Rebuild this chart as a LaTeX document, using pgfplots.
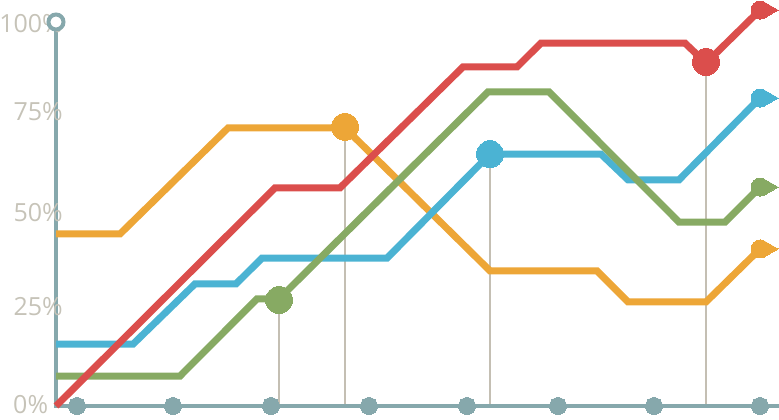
\documentclass[border=0pt]{standalone}
\usepackage{pgfplots}
\pgfplotsset{compat=1.18}
\usepackage{fontspec}
\setmainfont{Open Sans}
\definecolor{cred}{HTML}{DB4E4C}
\definecolor{corange}{HTML}{EDA637}
\definecolor{cblue}{HTML}{4BB3D3}
\definecolor{cgreen}{HTML}{87AA63}
\definecolor{caxis}{HTML}{86A8AC}
\definecolor{cdrop}{HTML}{C4BFB3}
\definecolor{ctext}{HTML}{C6C3B8}
\begin{document}
\begin{tikzpicture}
\begin{axis}[width=779pt,height=419pt,scale only axis,
  xmin=0,xmax=779,ymin=-3.385,ymax=105.73,hide axis,clip=false]
\coordinate (ll) at (rel axis cs:0,0);
\coordinate (ur) at (rel axis cs:1,1);
% drop lines
\addplot[cdrop, line width=2pt] coordinates {(279,0)(279,27.6)};
\addplot[cdrop, line width=2pt] coordinates {(345,0)(345,72.7)};
\addplot[cdrop, line width=2pt] coordinates {(490,0)(490,65.6)};
\addplot[cdrop, line width=2pt] coordinates {(706,0)(706,89.6)};
% axes
\addplot[caxis, line width=4pt] coordinates {(56,0)(56,100)};
\addplot[caxis, line width=4pt] coordinates {(54,0)(779,0)};
\addplot[only marks, color=caxis, mark=*, mark size=8.5pt, mark options={line width=0pt}]
  coordinates {(77,0)(173,0)(271,0)(369,0)(467,0)(558,0)(654,0)(760,0)};
\addplot[only marks, color=caxis, mark=*, mark size=7.5pt, mark options={fill=white,line width=4pt}]
  coordinates {(56,100)};
% orange
\addplot[corange, line width=7pt, line join=miter] coordinates
  {(56,44.8)(120,44.8)(228,72.4)(345,72.4)(490,35.2)(597,35.2)(628,27.1)(706,27.1)(760,40.9)};
\addplot[only marks, color=corange, mark=*, mark size=13.5pt, mark options={line width=0pt}] coordinates {(345,72.7)};
\addplot[only marks, color=corange, mark=*, mark size=9pt, mark options={line width=0pt}] coordinates {(760,40.9)};
\addplot[only marks, color=corange, mark=triangle*, mark size=10pt, mark options={line width=0pt,rotate=-90}] coordinates {(768,40.9)};
% blue
\addplot[cblue, line width=7pt, line join=miter] coordinates
  {(56,16.1)(133,16.1)(195,31.8)(236,31.8)(262,38.5)(387,38.5)(490,65.6)(601,65.6)(628,58.9)(679,58.9)(760,80.2)};
\addplot[only marks, color=cblue, mark=*, mark size=13.5pt, mark options={line width=0pt}] coordinates {(490,65.6)};
\addplot[only marks, color=cblue, mark=*, mark size=9pt, mark options={line width=0pt}] coordinates {(760,80.2)};
\addplot[only marks, color=cblue, mark=triangle*, mark size=10pt, mark options={line width=0pt,rotate=-90}] coordinates {(768,80.2)};
% green
\addplot[cgreen, line width=7pt, line join=miter] coordinates
  {(56,7.8)(180,7.8)(257,27.9)(279,27.9)(488,81.8)(549,81.8)(679,47.9)(725,47.9)(760,57.0)};
\addplot[only marks, color=cgreen, mark=*, mark size=13.5pt, mark options={line width=0pt}] coordinates {(279,27.6)};
\addplot[only marks, color=cgreen, mark=*, mark size=9pt, mark options={line width=0pt}] coordinates {(760,57.0)};
\addplot[only marks, color=cgreen, mark=triangle*, mark size=10pt, mark options={line width=0pt,rotate=-90}] coordinates {(768,57.0)};
% red
\addplot[cred, line width=7pt, line join=miter] coordinates
  {(56,0)(275,56.8)(340,56.8)(463,88.3)(517,88.3)(541,94.5)(685,94.5)(706,89.3)(760,103.1)};
\addplot[only marks, color=cred, mark=*, mark size=13.5pt, mark options={line width=0pt}] coordinates {(706,89.6)};
\addplot[only marks, color=cred, mark=*, mark size=9pt, mark options={line width=0pt}] coordinates {(760,103.1)};
\addplot[only marks, color=cred, mark=triangle*, mark size=10pt, mark options={line width=0pt,rotate=-90}] coordinates {(768,103.1)};
% labels
\begin{scope}[every node/.style={text=ctext, font=\fontsize{25}{25}\selectfont, inner sep=0pt}]
\node[anchor=east] at (axis cs:63,99.7) {100\%};
\node[anchor=east] at (axis cs:63,76.8) {75\%};
\node[anchor=east] at (axis cs:63,50.3) {50\%};
\node[anchor=east] at (axis cs:63,25.8) {25\%};
\node[anchor=west] at (axis cs:13,0.4) {0\%};
\end{scope}
\end{axis}
\pgfresetboundingbox
\useasboundingbox (ll) rectangle (ur);
\end{tikzpicture}
\end{document}
